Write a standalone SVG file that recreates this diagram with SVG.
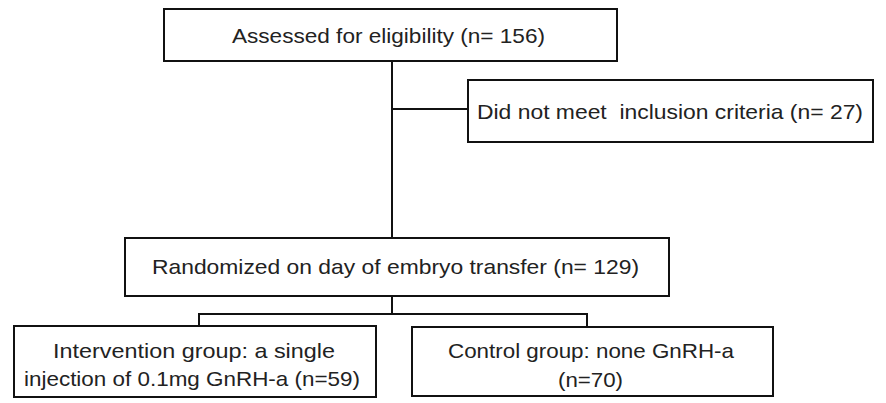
<svg xmlns="http://www.w3.org/2000/svg" width="886" height="403" viewBox="0 0 886 403">
<style>
.box{fill:#fff;stroke:#111;stroke-width:2}
.ln{fill:none;stroke:#111;stroke-width:2}
text{font-family:"Liberation Sans",Arial,sans-serif;font-size:21px;fill:#222}
</style>
<rect width="886" height="403" fill="#fff"/>
<g id="connectors">
<path class="ln" d="M392 61V238M392 109H468"/>
<path class="ln" d="M392 296V314M199 326V314H587V327"/>
</g>
<g id="assessed">
<rect class="box" x="164" y="9" width="453" height="52"/>
<text x="232" y="43" textLength="313" lengthAdjust="spacingAndGlyphs">Assessed for eligibility (n= 156)</text>
</g>
<g id="excluded">
<rect class="box" x="468" y="80" width="405" height="62"/>
<text x="477" y="119" textLength="386" lengthAdjust="spacingAndGlyphs">Did not meet&#160; inclusion criteria (n= 27)</text>
</g>
<g id="randomized">
<rect class="box" x="125" y="238" width="544" height="58"/>
<text x="152" y="274" textLength="487" lengthAdjust="spacingAndGlyphs">Randomized on day of embryo transfer (n= 129)</text>
</g>
<g id="intervention">
<rect class="box" x="14" y="326" width="362" height="71"/>
<text x="53" y="358" textLength="282" lengthAdjust="spacingAndGlyphs">Intervention group: a single</text>
<text x="24" y="386" textLength="336" lengthAdjust="spacingAndGlyphs">injection of 0.1mg GnRH-a (n=59)</text>
</g>
<g id="control">
<rect class="box" x="412" y="327" width="361" height="69"/>
<text x="448" y="358" textLength="286" lengthAdjust="spacingAndGlyphs">Control group: none GnRH-a</text>
<text x="558" y="387" textLength="65" lengthAdjust="spacingAndGlyphs">(n=70)</text>
</g>
</svg>
